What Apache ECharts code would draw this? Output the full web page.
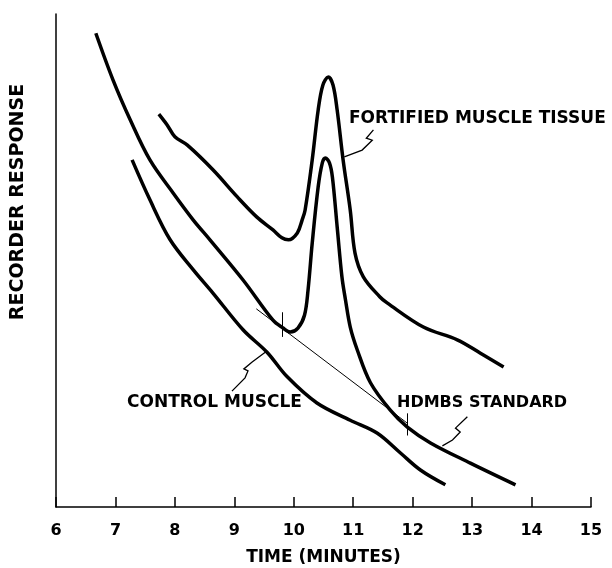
<!DOCTYPE html>
<html>
<head>
<meta charset="utf-8">
<title>Recorder response</title>
<script src="https://cdn.jsdelivr.net/npm/echarts@6/dist/echarts.min.js"></script>
<style>
  html, body { margin: 0; padding: 0; background: #fff; }
  #main { width: 612px; height: 568px; }
</style>
</head>
<body>
<div id="main"></div>
<script>
// time (minutes), recorder response (arbitrary units 0-100)
var hdmbsStandard = [
  [6.67, 96.1], [6.96, 86.6], [7.25, 78.5], [7.58, 70.4], [7.97, 63.7],
  [8.31, 58.2], [8.59, 54.2], [9.15, 46.0], [9.65, 37.9], [9.82, 36.3],
  [9.94, 35.5], [10.07, 36.3], [10.18, 38.9], [10.24, 44.0], [10.31, 53.5],
  [10.41, 64.9], [10.48, 69.8], [10.53, 70.8], [10.60, 69.8], [10.65, 66.9],
  [10.73, 56.8], [10.81, 46.7], [10.87, 42.0], [10.95, 36.5], [11.07, 31.8],
  [11.29, 25.2], [11.62, 19.7], [11.91, 16.2], [12.30, 13.0], [12.97, 8.9],
  [13.73, 4.5]
];
var fortifiedTissue = [
  [7.73, 79.7], [7.87, 77.5], [8.00, 75.1], [8.21, 73.4], [8.64, 68.4],
  [9.05, 62.9], [9.38, 58.8], [9.65, 56.2], [9.80, 54.6], [9.91, 54.2],
  [10.06, 55.6], [10.14, 58.2], [10.19, 60.2], [10.31, 70.4], [10.41, 80.5],
  [10.49, 85.6], [10.58, 87.2], [10.66, 85.6], [10.73, 80.5], [10.83, 70.4],
  [10.95, 60.2], [11.03, 51.5], [11.17, 46.7], [11.45, 42.6], [11.57, 41.4],
  [12.18, 36.5], [12.75, 33.9], [13.14, 31.2], [13.53, 28.4]
];
var controlMuscle = [
  [7.28, 70.4], [7.58, 62.3], [7.92, 54.2], [8.31, 48.1], [8.64, 43.4],
  [9.15, 35.9], [9.55, 31.4], [9.89, 26.4], [10.39, 21.1], [10.95, 17.6],
  [11.40, 15.0], [11.79, 11.0], [12.13, 7.5], [12.55, 4.5]
];
var peakBaseline = [[9.37, 40.2], [11.91, 17.0]];
var baselineMarks = [
  [[9.80, 39.5], [9.80, 34.5]],
  [[11.91, 19.0], [11.91, 14.5]]
];
var leaderFortified = [[11.34, 76.5], [11.22, 74.8], [11.32, 74.4], [11.15, 72.4], [10.85, 71.0]];
var leaderControl = [[8.96, 23.5], [9.18, 26.2], [9.23, 27.6], [9.16, 28.0], [9.30, 29.4], [9.52, 31.4]];
var leaderHdmbs = [[12.92, 18.3], [12.72, 16.0], [12.80, 15.2], [12.67, 13.6], [12.50, 12.4]];
var timeTicks = [6, 7, 8, 9, 10, 11, 12, 13, 14, 15];

var myChart = echarts.init(document.getElementById('main'));

var font = 'DejaVu Sans';
var thick = { color: '#000', width: 3.5 };

function curve(name, data) {
  return {
    name: name, type: 'line', data: data, smooth: 0.35,
    symbol: 'none', lineStyle: thick, silent: true
  };
}

function leader(coords) {
  return {
    type: 'lines', coordinateSystem: 'cartesian2d', polyline: true,
    symbol: ['none', 'arrow'], symbolSize: 7, silent: true,
    lineStyle: { color: '#000', width: 1.3, opacity: 1 },
    data: [{ coords: coords }]
  };
}

function label(text, x, y, size) {
  return {
    type: 'text', x: x, y: y,
    style: { text: text, align: 'left', verticalAlign: 'middle', fill: '#000',
             font: 'bold ' + size + 'px "DejaVu Sans"' }
  };
}

var option = {
  animation: false,
  grid: { left: 56, right: 21, top: 14, bottom: 61, outerBoundsMode: 'none' },
  xAxis: {
    type: 'value', min: timeTicks[0], max: timeTicks[timeTicks.length - 1], interval: 1,
    name: 'TIME (MINUTES)', nameLocation: 'middle', nameGap: 42,
    nameTextStyle: { color: '#000', fontFamily: font, fontWeight: 'bold', fontSize: 17 },
    axisLine: { lineStyle: { color: '#000', width: 1.5 } },
    axisTick: { inside: true, length: 10, lineStyle: { color: '#000', width: 1.5 } },
    axisLabel: { color: '#000', fontFamily: font, fontWeight: 'bold', fontSize: 16, margin: 16 },
    splitLine: { show: false }
  },
  yAxis: {
    type: 'value', min: 0, max: 100,
    axisLine: { show: true, lineStyle: { color: '#000', width: 1.5 } },
    axisTick: { show: false },
    axisLabel: { show: false },
    splitLine: { show: false }
  },
  graphic: [
    { type: 'text', x: 18, y: 202, rotation: Math.PI / 2,
      style: { text: 'RECORDER RESPONSE', align: 'center', verticalAlign: 'middle',
               fill: '#000', font: 'bold 19px "DejaVu Sans"' } },
    label('FORTIFIED MUSCLE TISSUE', 349, 119, 17),
    label('CONTROL MUSCLE', 127, 403, 17),
    label('HDMBS STANDARD', 397, 403, 16)
  ],
  series: [
    curve('HDMBS STANDARD', hdmbsStandard),
    curve('FORTIFIED MUSCLE TISSUE', fortifiedTissue),
    curve('CONTROL MUSCLE', controlMuscle),
    {
      type: 'line', data: peakBaseline, symbol: 'none', silent: true,
      lineStyle: { color: '#000', width: 1 }
    },
    {
      type: 'lines', coordinateSystem: 'cartesian2d', silent: true,
      lineStyle: { color: '#000', width: 1, opacity: 1 },
      data: baselineMarks.map(function (c) { return { coords: c }; })
    },
    leader(leaderFortified),
    leader(leaderControl),
    leader(leaderHdmbs)
  ]
};

myChart.setOption(option);
</script>
</body>
</html>
